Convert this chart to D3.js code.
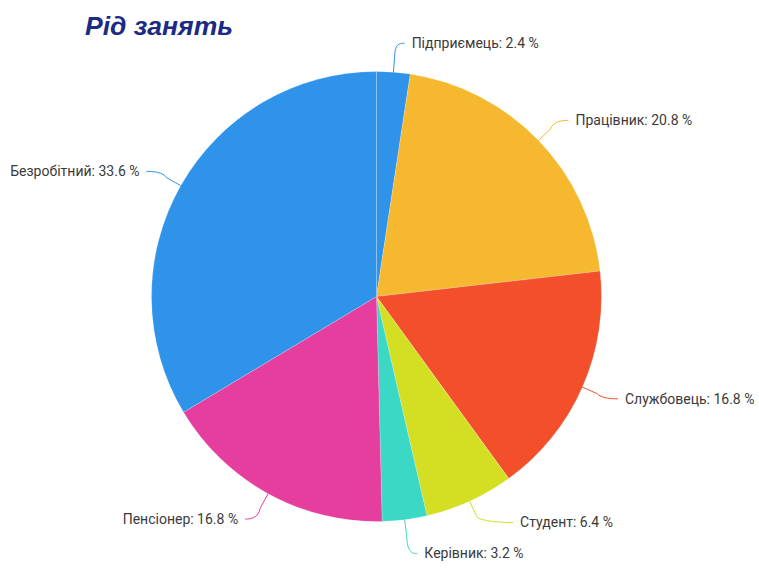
<!DOCTYPE html>
<html><head><meta charset="utf-8">
<script src="https://cdn.jsdelivr.net/npm/d3@7"></script>
<style>body{margin:0;background:#fff}svg{display:block}</style>
</head><body>
<svg id="c" width="759" height="568"></svg>
<script>
const title = "Рід занять";
const categories = ["Підприємець","Працівник","Службовець","Студент","Керівник","Пенсіонер","Безробітний"];
const values = [2.4, 20.8, 16.8, 6.4, 3.2, 16.8, 33.6];
const colors = ["#2f93ea","#f5b82e","#f44f2b","#d4df24","#3ad8c5","#e53e9f","#2f93ea"];

const W = 759, H = 568, cx = 376.5, cy = 296.5, r = 225, labelDist = 29;
const svg = d3.select("#c");

svg.append("text").attr("x", 85).attr("y", 35)
  .attr("font-family", "Liberation Sans, Arial, sans-serif")
  .attr("font-weight", "bold").attr("font-style", "italic")
  .attr("font-size", 26.5).attr("fill", "#1b2a84").text(title);

const data = categories.map((c, i) => ({name: c, value: values[i], color: colors[i]}));
const pie = d3.pie().sort(null).value(d => d.value);
const arcs = pie(data);
const arc = d3.arc().innerRadius(0).outerRadius(r);

const g = svg.append("g").attr("transform", `translate(${cx},${cy})`);
g.selectAll("path.slice").data(arcs).join("path")
  .attr("class", "slice").attr("d", arc)
  .attr("fill", d => d.data.color)
  .attr("stroke", "rgba(255,255,255,0.25)").attr("stroke-width", 0.8);

// label layout
const R = r + labelDist;
const labels = arcs.map(d => {
  const a = (d.startAngle + d.endAngle) / 2;
  const s = Math.sin(a), c = -Math.cos(a);
  return {d, a, side: s >= 0 ? 1 : -1,
    edge: [s * r, c * r], nat: [s * R, c * R], y: c * R};
});
// simple collision spread per side
const minGap = 31;
[1, -1].forEach(side => {
  const L = labels.filter(l => l.side === side).sort((p, q) => p.y - q.y);
  for (let iter = 0; iter < 20; iter++) {
    for (let i = 1; i < L.length; i++) {
      const gap = L[i].y - L[i - 1].y;
      if (gap < minGap) {
        const push = (minGap - gap) / 2;
        L[i].y += push; L[i - 1].y -= push;
      }
    }
  }
});

labels.forEach(l => {
  const shift = l.y - l.nat[1];
  const tx = l.nat[0] + l.side * (16 + Math.max(0, -shift * l.side) * 4.4);
  const ex = tx - l.side * 7;
  const bk = [l.edge[0] + Math.sin(l.a) * 16, l.edge[1] - Math.cos(l.a) * 16];
  const p = d3.path();
  p.moveTo(l.edge[0], l.edge[1]);
  p.lineTo(bk[0], bk[1]);
  p.bezierCurveTo(bk[0] + Math.sin(l.a) * 4, bk[1] + (l.y - bk[1]) * 0.9,
                  ex - l.side * 6, l.y, ex, l.y);
  g.append("path").attr("d", p.toString()).attr("fill", "none")
    .attr("stroke", l.d.data.color).attr("stroke-width", 1);
  g.append("text").attr("x", tx).attr("y", l.y).attr("dy", "0.35em")
    .attr("text-anchor", l.side > 0 ? "start" : "end")
    .attr("font-family", "Roboto, sans-serif").attr("font-size", 14)
    .attr("fill", "#3a3a3a")
    .text(`${l.d.data.name}: ${l.d.data.value} %`);
});
</script>
</body></html>
